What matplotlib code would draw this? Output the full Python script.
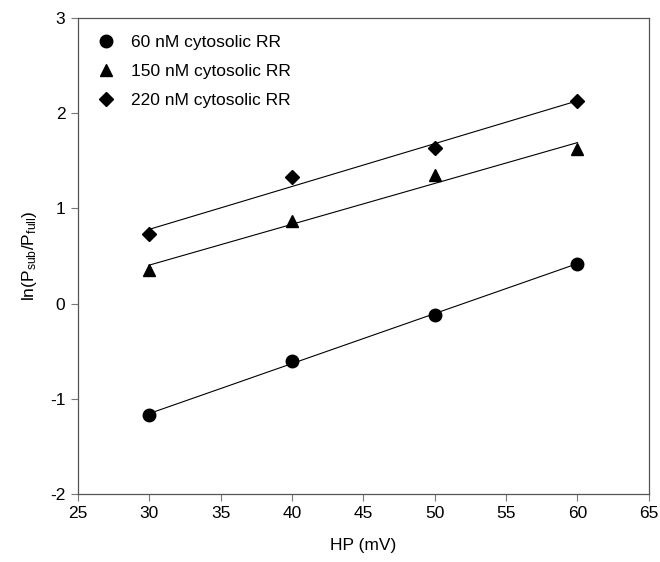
import numpy as np
import matplotlib
matplotlib.use("Agg")
import matplotlib.pyplot as plt

plt.rcParams['font.family'] = ['Liberation Sans', 'DejaVu Sans']
plt.rcParams['mathtext.fontset'] = 'custom'
plt.rcParams['mathtext.rm'] = 'Liberation Sans'
plt.rcParams['mathtext.it'] = 'Liberation Sans:italic'
plt.rcParams['axes.unicode_minus'] = False

hp = [30, 40, 50, 60]
rr_60 = [-1.17, -0.60, -0.12, 0.42]
rr_150 = [0.35, 0.87, 1.35, 1.62]
rr_220 = [0.73, 1.33, 1.63, 2.13]

series = [
    ("60 nM cytosolic RR", rr_60, "o", 9),
    ("150 nM cytosolic RR", rr_150, "^", 8.5),
    ("220 nM cytosolic RR", rr_220, "D", 7.5),
]

fig = plt.figure(figsize=(6.6, 5.62), dpi=100)
ax = fig.add_axes([0.118, 0.121, 0.865, 0.847])

x = np.array(hp, dtype=float)
for label, vals, marker, ms in series:
    y = np.array(vals)
    slope, icpt = np.polyfit(x, y, 1)
    ax.plot(x, slope * x + icpt, color='black', lw=0.8, zorder=2)
    ax.plot(x, y, linestyle='none', marker=marker, ms=ms, color='black',
            label=label, zorder=3)

ax.set_xlim(25, 65)
ax.set_ylim(-2, 3)
ax.set_xticks(range(25, 66, 5))
ax.set_yticks(range(-2, 4))
ax.tick_params(direction='out', length=5, width=0.8, color='#777777',
               labelsize=12.5, pad=4)
for s in ax.spines.values():
    s.set_color('#555555')
    s.set_linewidth(0.9)

ax.set_xlabel('HP (mV)', fontsize=12.5, labelpad=12)
ax.set_ylabel(r'ln(P$_{\rm sub}$/P$_{\rm full}$)', fontsize=12.5, labelpad=8)

leg = ax.legend(loc='upper left', frameon=False, fontsize=12.5,
                handletextpad=0.85, borderaxespad=0.6, labelspacing=0.78,
                handlelength=1.2)

fig.savefig('out.png', dpi=100)
